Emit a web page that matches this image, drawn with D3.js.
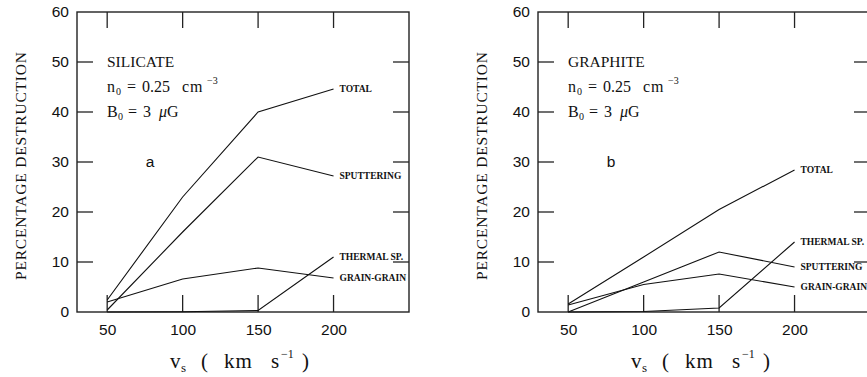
<!DOCTYPE html>
<html><head><meta charset="utf-8">
<script src="https://cdn.jsdelivr.net/npm/d3@7/dist/d3.min.js"></script>
<style>
html,body{margin:0;padding:0;background:#fff;}
svg{display:block;}
.tick text{font-family:"Liberation Sans",Arial,sans-serif;}
</style></head>
<body>
<script>
// ---- data ----
const vs = [50, 100, 150, 200];
const xTicks = [50, 100, 150, 200];
const yTickLabels = [0, 10, 20, 30, 40, 50, 60];
const yInnerTicks = [10, 20, 30, 40, 50];

const silicateTotal   = [2.4, 23, 40, 44.6];
const silicateSputter = [0.4, 16, 31, 27.2];
const silicateGrain   = [2.0, 6.6, 8.8, 6.8];
const silicateThermal = [0, 0.05, 0.3, 11];

const graphiteTotal   = [1.6, 11, 20.5, 28.4];
const graphiteSputter = [0, 6, 12, 9];
const graphiteGrain   = [1.4, 5.5, 7.6, 5];
const graphiteThermal = [0, 0.1, 0.8, 14];

const seriesNames = ["TOTAL", "SPUTTERING", "THERMAL SP.", "GRAIN-GRAIN"];

const W = 867, H = 377;
const svg = d3.select("body").append("svg").attr("width", W).attr("height", H);

const plotW = 332, plotTop = 12, plotBottom = 312;
const serif = "'Liberation Serif','Times New Roman',serif";

function panel(left, material, letter, series) {
  const g = svg.append("g").attr("transform", `translate(${left},0)`);
  const x = d3.scaleLinear().domain([30, 250]).range([0, plotW]);
  const y = d3.scaleLinear().domain([0, 60]).range([plotBottom, plotTop]);

  // frame
  g.append("rect").attr("x", 0).attr("y", plotTop).attr("width", plotW)
    .attr("height", plotBottom - plotTop).attr("fill", "none")
    .attr("stroke", "#222").attr("stroke-width", 1.4);

  const yAx = g.append("g").call(d3.axisLeft(y).tickValues(yTickLabels).tickSize(0).tickPadding(8));
  yAx.select(".domain").remove();
  yAx.selectAll("text").attr("font-size", 15.5).attr("fill", "#111");

  const xAx = g.append("g").attr("transform", `translate(0,${plotBottom})`)
    .call(d3.axisBottom(x).tickValues(xTicks).tickSize(0).tickPadding(12));
  xAx.select(".domain").remove();
  xAx.selectAll("text").attr("font-size", 15.5).attr("fill", "#111");

  const tk = 16;
  yInnerTicks.forEach(v => {
    g.append("line").attr("x1", 0).attr("x2", tk).attr("y1", y(v)).attr("y2", y(v))
      .attr("stroke", "#222").attr("stroke-width", 1.3);
    g.append("line").attr("x1", plotW - tk).attr("x2", plotW).attr("y1", y(v)).attr("y2", y(v))
      .attr("stroke", "#222").attr("stroke-width", 1.3);
  });
  xTicks.forEach(v => {
    g.append("line").attr("x1", x(v)).attr("x2", x(v)).attr("y1", plotTop).attr("y2", plotTop + tk)
      .attr("stroke", "#222").attr("stroke-width", 1.3);
    g.append("line").attr("x1", x(v)).attr("x2", x(v)).attr("y1", plotBottom).attr("y2", plotBottom - tk - 1)
      .attr("stroke", "#222").attr("stroke-width", 1.3);
  });

  // series lines
  const line = d3.line().x((d, i) => x(vs[i])).y(d => y(d));
  series.forEach((s, k) => {
    g.append("path").datum(s).attr("d", line).attr("fill", "none")
      .attr("stroke", "#111").attr("stroke-width", 1.1);
    g.append("text").attr("x", x(vs[vs.length - 1]) + 6).attr("y", y(s[s.length - 1]))
      .attr("dy", "0.35em")
      .attr("font-family", serif).attr("font-weight", 600)
      .attr("font-size", 9.5).attr("fill", "#111").text(seriesNames[k]);
  });

  // annotations
  g.append("text").attr("x", 30).attr("y", 67).attr("font-family", serif)
    .attr("font-size", 15.5).attr("fill", "#111").text(material);
  const t2 = g.append("text").attr("y", 92).attr("font-family", serif)
    .attr("font-size", 16).attr("fill", "#111");
  t2.append("tspan").attr("x", 30).text("n");
  t2.append("tspan").attr("x", 39).attr("dy", 3).attr("font-size", 10).text("0");
  t2.append("tspan").attr("x", 50).attr("dy", -3).text("=");
  t2.append("tspan").attr("x", 65).text("0.25");
  t2.append("tspan").attr("x", 105).attr("letter-spacing", 1).text("cm");
  t2.append("tspan").attr("x", 130).attr("dy", -8).attr("font-size", 10).text("\u22123");
  const t3 = g.append("text").attr("y", 117).attr("font-family", serif)
    .attr("font-size", 16).attr("fill", "#111");
  t3.append("tspan").attr("x", 30).text("B");
  t3.append("tspan").attr("x", 41).attr("dy", 3).attr("font-size", 10).text("0");
  t3.append("tspan").attr("x", 51).attr("dy", -3).text("=");
  t3.append("tspan").attr("x", 66).text("3");
  t3.append("tspan").attr("x", 82).attr("font-style", "italic").text("\u03bc");
  t3.append("tspan").text("G");

  g.append("text").attr("x", 73).attr("y", 167).attr("text-anchor", "middle")
    .attr("font-family", "'Liberation Sans',Arial,sans-serif").attr("font-size", 15.5)
    .attr("fill", "#111").text(letter);

  // axis titles
  g.append("text").attr("transform", `translate(-51,166) rotate(-90)`)
    .attr("text-anchor", "middle").attr("font-family", serif).attr("font-size", 15.5)
    .attr("fill", "#111").attr("textLength", 228).attr("lengthAdjust", "spacing")
    .text("PERCENTAGE  DESTRUCTION");

  const xt = g.append("text").attr("y", 368).attr("font-family", serif)
    .attr("font-size", 21).attr("fill", "#111");
  xt.append("tspan").attr("x", 93).text("v");
  xt.append("tspan").attr("x", 104).attr("dy", 4).attr("font-size", 13).text("s");
  xt.append("tspan").attr("x", 124).attr("dy", -4).text("(");
  xt.append("tspan").attr("x", 147).attr("letter-spacing", 1).text("km");
  xt.append("tspan").attr("x", 194).text("s");
  xt.append("tspan").attr("x", 204).attr("dy", -10).attr("font-size", 12).text("\u22121");
  xt.append("tspan").attr("x", 225).attr("dy", 10).text(")");
}

panel(77, "SILICATE", "a", [silicateTotal, silicateSputter, silicateThermal, silicateGrain]);
panel(538, "GRAPHITE", "b", [graphiteTotal, graphiteSputter, graphiteThermal, graphiteGrain]);
</script>
</body></html>
